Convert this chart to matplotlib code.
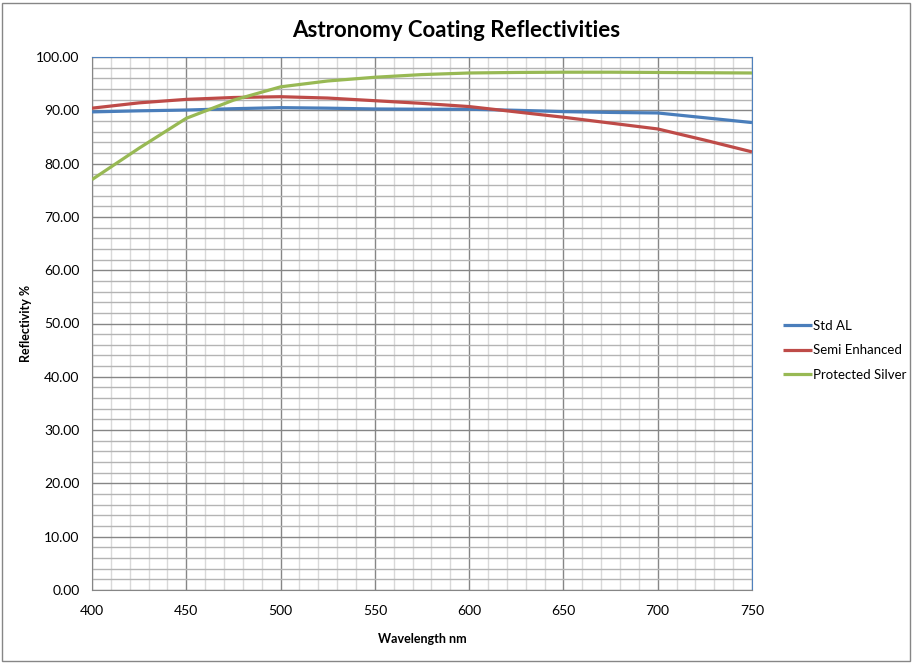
import numpy as np
import matplotlib.pyplot as plt
from matplotlib.ticker import MultipleLocator, FormatStrFormatter
from matplotlib.patches import Rectangle

# data
wavelength = [400, 425, 450, 475, 500, 525, 550, 575, 600, 625, 650, 675, 700, 725, 750]
std_al = [89.7, 89.9, 90.05, 90.3, 90.5, 90.4, 90.25, 90.2, 90.2, 90.0, 89.75, 89.6, 89.5, 88.6, 87.7]
semi_enh = [90.4, 91.4, 92.05, 92.4, 92.55, 92.3, 91.8, 91.3, 90.7, 89.7, 88.7, 87.6, 86.5, 84.4, 82.2]
prot_silver = [77.0, 82.9, 88.5, 91.9, 94.4, 95.5, 96.2, 96.7, 97.0, 97.1, 97.15, 97.15, 97.1, 97.05, 97.0]

series_names = ["Std AL", "Semi Enhanced", "Protected Silver"]
colors = ["#4a7ebb", "#be4b48", "#98b954"]

plt.rcParams['font.family'] = ['Lato', 'DejaVu Sans']

fig = plt.figure(figsize=(9.13, 6.63), dpi=100)
ax = fig.add_axes([92/913, 73/663, 660/913, 533/663])

for ys, name, c in zip([std_al, semi_enh, prot_silver], series_names, colors):
    ax.plot(wavelength, ys, color=c, lw=2.3, label=name, solid_capstyle="butt", zorder=3)

ax.set_xlim(400, 750)
ax.set_ylim(0, 100)
ax.xaxis.set_major_locator(MultipleLocator(50))
ax.xaxis.set_minor_locator(MultipleLocator(10))
ax.yaxis.set_major_locator(MultipleLocator(10))
ax.yaxis.set_minor_locator(MultipleLocator(2))
ax.yaxis.set_major_formatter(FormatStrFormatter("%.2f"))

# minor lines first, major lines on top
ax.grid(True, axis="x", which="minor", color="#d9d9d9", lw=1, zorder=0.5)
ax.grid(True, axis="y", which="minor", color="#b4b4b4", lw=1, zorder=0.6)
ax.grid(True, axis="both", which="major", color="#868686", lw=1, zorder=0.7)
ax.set_axisbelow(True)

ax.tick_params(which="both", length=0, labelsize=10, colors="black")
ax.tick_params(axis="x", pad=11)
ax.tick_params(axis="y", pad=9)

for side in ["left", "bottom"]:
    ax.spines[side].set_color("#868686")
for side in ["top", "right"]:
    ax.spines[side].set_color("#4f81bd")

ax.set_xlabel("Wavelength nm", fontsize=9, fontweight="bold")
ax.set_ylabel("Reflectivity %", fontsize=9, fontweight="bold")
ax.xaxis.set_label_coords(0.5, -0.08)
ax.yaxis.set_label_coords(-0.091, 0.5)
fig.suptitle("Astronomy Coating Reflectivities", fontsize=16, fontweight="bold", y=0.97)

ax.legend(loc="center left", bbox_to_anchor=(1.047, 0.45), frameon=False,
          borderaxespad=0, borderpad=0, fontsize=9.5, handlelength=2.2,
          handletextpad=0.1, labelspacing=0.95)

fig.patches.append(Rectangle((2/913, 2/663), 908/913, 658/663, transform=fig.transFigure,
                             fill=False, edgecolor="#868686", lw=1))

fig.savefig("out.png", dpi=100)
